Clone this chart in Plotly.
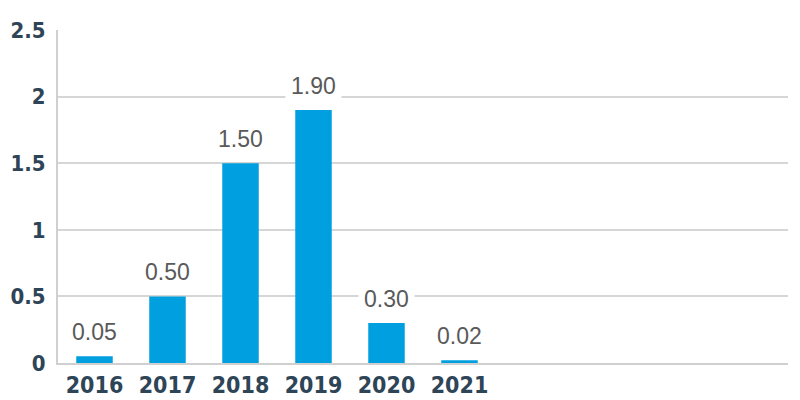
import plotly.graph_objects as go

years = ["2016", "2017", "2018", "2019", "2020", "2021"]
values = [0.05, 0.50, 1.50, 1.90, 0.30, 0.02]
value_labels = ["0.05", "0.50", "1.50", "1.90", "0.30", "0.02"]
y_ticks = [0, 0.5, 1, 1.5, 2, 2.5]
y_tick_labels = ["0", "0.5", "1", "1.5", "2", "2.5"]

positions = list(range(len(years)))
tick_font = "DejaVu Sans Condensed, Liberation Sans Narrow, Liberation Sans"

fig = go.Figure()
fig.add_trace(go.Bar(x=positions, y=values, marker=dict(color="#009fdf", line=dict(width=0)),
                     hoverinfo="skip"))

for p, v, lab in zip(positions, values, value_labels):
    fig.add_annotation(x=p, y=v, text=lab, showarrow=False, yanchor="bottom", yshift=5,
                       bgcolor="white", borderpad=5,
                       font=dict(family="Liberation Sans, Arial", size=23, color="#595959"))

fig.update_layout(
    width=792, height=392,
    margin=dict(l=50, r=12, t=22, b=37),
    paper_bgcolor="white", plot_bgcolor="white",
    bargap=0.5, showlegend=False,
    xaxis=dict(range=[-0.5, 9.5], tickvals=positions, ticktext=years, showgrid=False,
               showline=True, linecolor="#d0d0d0", linewidth=2, automargin=False,
               tickfont=dict(family=tick_font, size=23, color="#2e4457", weight="bold"),
               ticks="", zeroline=False, fixedrange=True),
    yaxis=dict(range=[0, 2.5], tickvals=y_ticks, ticktext=y_tick_labels, automargin=False,
               showgrid=True, gridcolor="#d6d6d6", gridwidth=2,
               showline=True, linecolor="#d0d0d0", linewidth=2, zeroline=False,
               tickfont=dict(family=tick_font, size=22, color="#2e4457", weight="bold"),
               ticks="outside", ticklen=6, tickcolor="rgba(0,0,0,0)"),
)

fig.write_html("out.html")
